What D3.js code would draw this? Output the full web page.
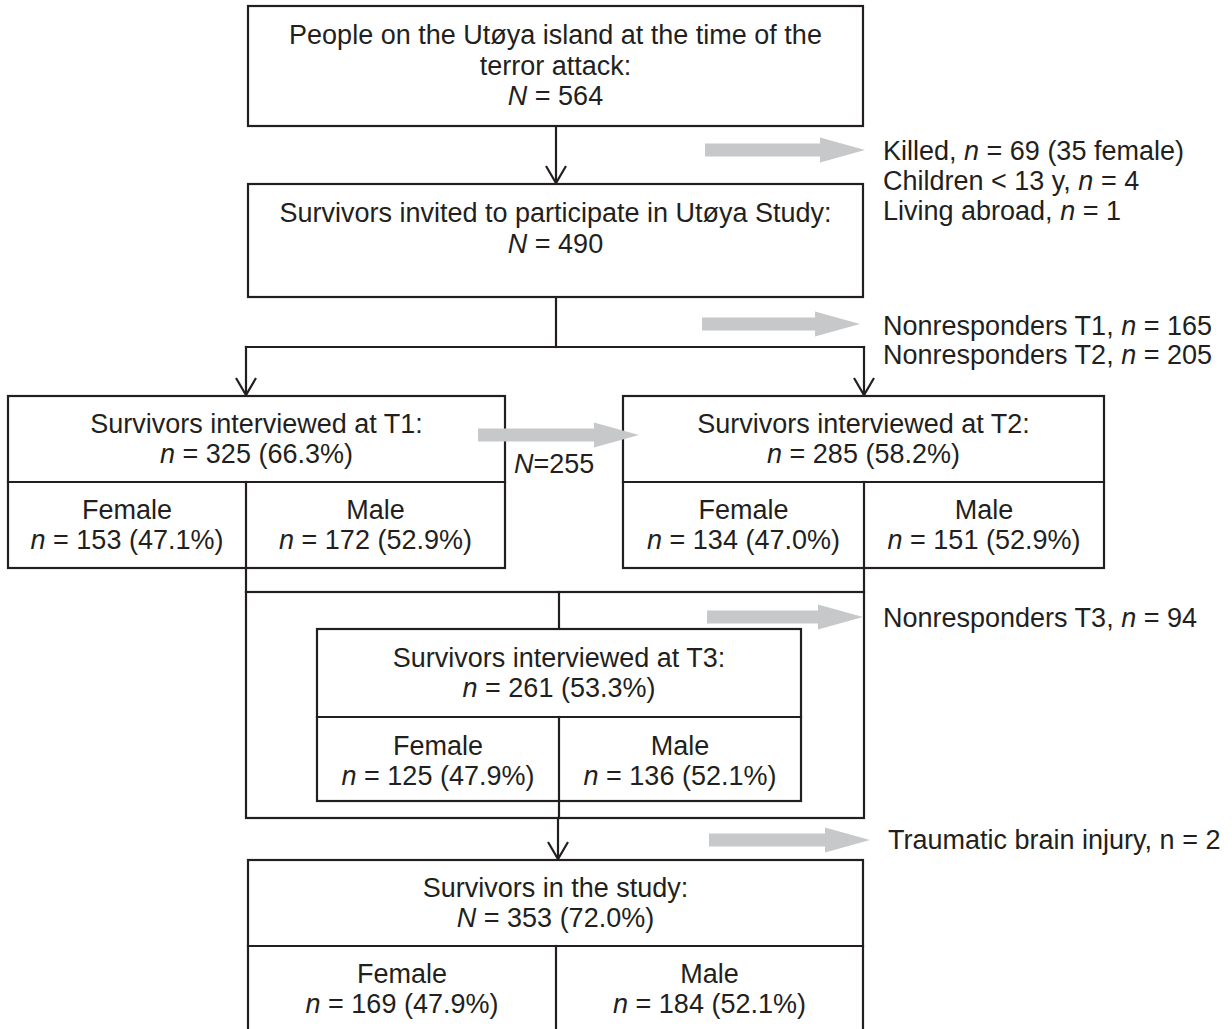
<!DOCTYPE html>
<html><head><meta charset="utf-8">
<script src="https://cdn.jsdelivr.net/npm/d3@7"></script>
<style>html,body{margin:0;padding:0;background:#fff;}</style>
</head><body>
<svg id="chart" width="1232" height="1029"></svg>
<script>
// ---------- data ----------
const stageLabels = [
  ["People on the Utøya island at the time of the", "terror attack:"],
  ["Survivors invited to participate in Utøya Study:"],
  ["Survivors interviewed at T1:"],
  ["Survivors interviewed at T2:"],
  ["Survivors interviewed at T3:"],
  ["Survivors in the study:"]
];
const stageSymbol = ["N", "N", "n", "n", "n", "N"];
const stageTotals = [564, 490, 325, 285, 261, 353];
const stagePct = [null, null, "66.3%", "58.2%", "53.3%", "72.0%"];
const sexLabels = ["Female", "Male"];
const femaleN = [null, null, 153, 134, 125, 169];
const femalePct = [null, null, "47.1%", "47.0%", "47.9%", "47.9%"];
const maleN = [null, null, 172, 151, 136, 184];
const malePct = [null, null, "52.9%", "52.9%", "52.1%", "52.1%"];
const exclusionLabels = [
  ["Killed", "Children < 13 y", "Living abroad"],
  ["Nonresponders T1", "Nonresponders T2"],
  ["Nonresponders T3"],
  ["Traumatic brain injury"]
];
const exclusionN = [[69, 4, 1], [165, 205], [94], [2]];
const exclusionExtra = [[" (35 female)", "", ""], ["", ""], [""], [""]];
const exclusionItalic = [true, true, true, false];
const overlapN = 255;

// ---------- layout (positions only) ----------
const boxes = [
  {x0:248, x1:863, y0:6,   y1:126, lines:[44, 74.5, 105]},
  {x0:248, x1:863, y0:184, y1:297, lines:[222, 253]},
  {x0:8,   x1:505, y0:396, y1:568, split:482, div:246},
  {x0:623, x1:1104,y0:396, y1:568, split:482, div:864},
  {x0:317, x1:801, y0:629, y1:801, split:717, div:559},
  {x0:248, x1:863, y0:860, y1:1032, split:946, div:556}
];
const grayArrows = [
  {x0:705, x1:865, y:150},
  {x0:702, x1:860, y:324},
  {x0:707, x1:863, y:617},
  {x0:709, x1:870, y:840}
];
const exclText = [
  {x:883, y:[160, 190, 220]},
  {x:883, y:[335, 364]},
  {x:883, y:[627]},
  {x:888, y:[849]}
];

const INK = "#231f20", GRAY = "#c7c8ca", FONT = "'Liberation Sans', Arial, Helvetica, sans-serif", FS = 27, LW = 2.2;

const svg = d3.select("#chart");
const g = svg.append("g");

function txt(x, y, parts, anchor) {
  const t = g.append("text").attr("x", x).attr("y", y)
    .attr("text-anchor", anchor || "middle")
    .attr("font-family", FONT).attr("font-size", FS).attr("fill", INK);
  parts.forEach(p => {
    t.append("tspan").attr("font-style", p.i ? "italic" : "normal").text(p.t);
  });
  return t;
}
function line(x1, y1, x2, y2) {
  g.append("line").attr("x1", x1).attr("y1", y1).attr("x2", x2).attr("y2", y2)
    .attr("stroke", INK).attr("stroke-width", LW).attr("stroke-linecap", "square");
}
function arrowDown(x, y1, y2) {
  line(x, y1, x, y2 - 1);
  g.append("path").attr("d", d3.line()([[x - 10, y2 - 18], [x, y2 - 1], [x + 10, y2 - 18]]))
    .attr("fill", "none").attr("stroke", INK).attr("stroke-width", LW);
}
function grayArrow(a) {
  const sh = 6.5, hh = 12.5, hl = 45;
  const pts = [[a.x0, a.y - sh], [a.x1 - hl, a.y - sh], [a.x1 - hl, a.y - hh], [a.x1, a.y],
               [a.x1 - hl, a.y + hh], [a.x1 - hl, a.y + sh], [a.x0, a.y + sh]];
  g.append("path").attr("d", d3.line()(pts) + "Z").attr("fill", GRAY);
}

// connectors
arrowDown(556, 126, 184);
line(556, 297, 556, 347);
line(246, 347, 864, 347);
arrowDown(246, 347, 396);
arrowDown(864, 347, 396);
line(246, 568, 246, 592);
line(864, 568, 864, 592);
g.append("rect").attr("x", 246).attr("y", 592).attr("width", 864 - 246).attr("height", 818 - 592)
  .attr("fill", "none").attr("stroke", INK).attr("stroke-width", LW);
line(559, 592, 559, 629);
line(559, 801, 559, 818);
arrowDown(558, 818, 860);

// boxes
boxes.forEach((b, i) => {
  g.append("rect").attr("x", b.x0).attr("y", b.y0).attr("width", b.x1 - b.x0).attr("height", b.y1 - b.y0)
    .attr("fill", "#fff").attr("stroke", INK).attr("stroke-width", LW);
  const cx = (b.x0 + b.x1) / 2;
  const totalLine = [{t: stageSymbol[i], i: true}, {t: " = " + stageTotals[i] + (stagePct[i] ? " (" + stagePct[i] + ")" : "")}];
  if (b.split === undefined) {
    const ls = stageLabels[i].map(s => [{t: s}]).concat([totalLine]);
    ls.forEach((p, k) => txt(cx, b.lines[k], p));
  } else {
    line(b.x0, b.split, b.x1, b.split);
    line(b.div, b.split, b.div, b.y1);
    const m1 = (b.y0 + b.split) / 2;
    txt(cx, m1 - 6, [{t: stageLabels[i][0]}]);
    txt(cx, m1 + 24, totalLine);
    const m2 = (b.split + b.split + (b.split - b.y0)) / 2;
    const cf = (b.x0 + b.div) / 2, cm = (b.div + b.x1) / 2;
    txt(cf, m2 - 6, [{t: sexLabels[0]}]);
    txt(cf, m2 + 24, [{t: "n", i: true}, {t: " = " + femaleN[i] + " (" + femalePct[i] + ")"}]);
    txt(cm, m2 - 6, [{t: sexLabels[1]}]);
    txt(cm, m2 + 24, [{t: "n", i: true}, {t: " = " + maleN[i] + " (" + malePct[i] + ")"}]);
  }
});

// gray arrows + exclusion text
grayArrows.forEach(grayArrow);
exclusionLabels.forEach((ls, j) => {
  ls.forEach((s, k) => {
    txt(exclText[j].x, exclText[j].y[k],
      [{t: s + ", "}, {t: "n", i: exclusionItalic[j]}, {t: " = " + exclusionN[j][k] + exclusionExtra[j][k]}], "start");
  });
});

// overlap arrow between T1 and T2
grayArrow({x0:478, x1:639, y:435});
txt(514, 473, [{t: "N", i: true}, {t: "=" + overlapN}], "start");
</script>
</body></html>
